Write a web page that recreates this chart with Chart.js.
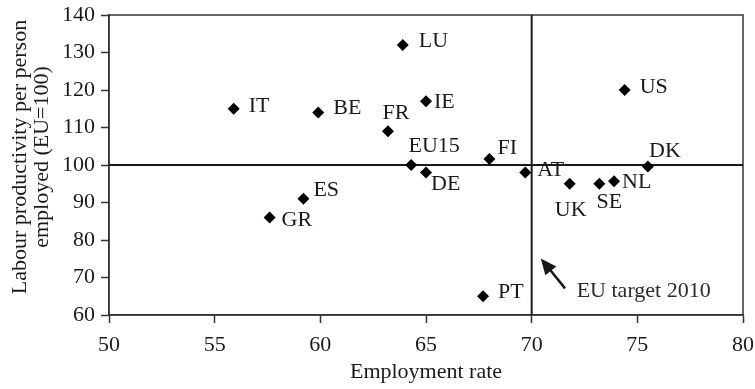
<!DOCTYPE html>
<html>
<head>
<meta charset="utf-8">
<script src="https://cdn.jsdelivr.net/npm/chart.js@4.4.1/dist/chart.umd.min.js"></script>
<style>
  html, body { margin: 0; padding: 0; background: #fff; }
  #wrap { width: 755px; height: 389px; }
</style>
</head>
<body>
<div id="wrap"><canvas id="chart-productivity"></canvas></div>
<script>
// Employment rate vs labour productivity per person employed
const countries = ['IT', 'BE', 'ES', 'GR', 'LU', 'IE', 'FR', 'EU15', 'DE', 'FI', 'AT', 'UK', 'SE', 'NL', 'DK', 'US', 'PT'];
const employment = [55.9, 59.9, 59.2, 57.6, 63.9, 65.0, 63.2, 64.3, 65.0, 68.0, 69.7, 71.8, 73.2, 73.9, 75.5, 74.4, 67.7];
const productivity = [115, 114, 91, 86, 132, 117, 109, 100, 98, 101.6, 98, 95, 95, 95.7, 99.6, 120, 65];

const xTicks = [50, 55, 60, 65, 70, 75, 80];
const yTicks = [60, 70, 80, 90, 100, 110, 120, 130, 140];

const xTitle = 'Employment rate';
const yTitle = ['Labour productivity per person', 'employed (EU=100)'];

// target line, EU average line and the note pointing at the target
const targetEmployment = 70;
const euAverage = 100;
const noteText = 'EU target 2010';
const noteArrow = [[71.58, 67.1], [70.43, 75.1]];
const notePos = [72.13, 66.4];

// label placement next to each diamond: [dx, dy, align]
const labelPlace = {
  IT: [15, -3, 'left'], BE: [15, -4, 'left'], ES: [10, -9, 'left'], GR: [12, 3, 'left'],
  LU: [16, -4, 'left'], IE: [8, 1, 'left'], FR: [8, -18, 'center'], EU15: [23, -19, 'center'],
  DE: [5, 12, 'left'], FI: [8, -11, 'left'], AT: [12, -2, 'left'], UK: [1, 26, 'center'],
  SE: [10, 18, 'center'], NL: [8, 1, 'left'], DK: [17, -15, 'center'], US: [15, -3, 'left'],
  PT: [15, -4, 'left']
};

const FONT = "'Liberation Serif', 'Times New Roman', serif";
const INK = '#1a1a1a';

const points = countries.map((c, i) => ({ x: employment[i], y: productivity[i] }));

const overlay = {
  id: 'overlay',
  beforeDatasetsDraw(chart) {
    const { ctx, chartArea: a, scales: { x, y } } = chart;
    ctx.save();
    ctx.strokeStyle = '#333';
    ctx.lineWidth = 1.5;
    ctx.strokeRect(a.left, a.top, a.right - a.left, a.bottom - a.top);
    const px = x.getPixelForValue(targetEmployment);
    const py = y.getPixelForValue(euAverage);
    ctx.strokeStyle = INK;
    ctx.lineWidth = 2;
    ctx.beginPath();
    ctx.moveTo(px, a.top); ctx.lineTo(px, a.bottom);
    ctx.moveTo(a.left, py); ctx.lineTo(a.right, py);
    ctx.stroke();
    ctx.restore();
  },
  afterDatasetsDraw(chart) {
    const { ctx, chartArea: a, scales: { x, y } } = chart;
    const meta = chart.getDatasetMeta(0);
    ctx.save();
    ctx.font = '22px ' + FONT;
    ctx.fillStyle = INK;
    ctx.textBaseline = 'middle';
    meta.data.forEach((pt, i) => {
      const [dx, dy, align] = labelPlace[countries[i]];
      ctx.textAlign = align;
      ctx.fillText(countries[i], pt.x + dx, pt.y + dy);
    });

    // arrow towards the target line
    const x0 = x.getPixelForValue(noteArrow[0][0]), y0 = y.getPixelForValue(noteArrow[0][1]);
    const x1 = x.getPixelForValue(noteArrow[1][0]), y1 = y.getPixelForValue(noteArrow[1][1]);
    const ang = Math.atan2(y1 - y0, x1 - x0);
    const hl = 16, hw = 7;
    ctx.strokeStyle = INK;
    ctx.lineWidth = 2.5;
    ctx.beginPath();
    ctx.moveTo(x0, y0);
    ctx.lineTo(x1 - Math.cos(ang) * hl * 0.8, y1 - Math.sin(ang) * hl * 0.8);
    ctx.stroke();
    ctx.beginPath();
    ctx.moveTo(x1, y1);
    ctx.lineTo(x1 - Math.cos(ang) * hl - Math.sin(ang) * hw, y1 - Math.sin(ang) * hl + Math.cos(ang) * hw);
    ctx.lineTo(x1 - Math.cos(ang) * hl + Math.sin(ang) * hw, y1 - Math.sin(ang) * hl - Math.cos(ang) * hw);
    ctx.closePath();
    ctx.fillStyle = INK;
    ctx.fill();

    ctx.fillStyle = '#2b2b2b';
    ctx.textAlign = 'left';
    ctx.fillText(noteText, x.getPixelForValue(notePos[0]), y.getPixelForValue(notePos[1]));

    // y axis title, two lines, sitting a little above the axis middle
    ctx.fillStyle = INK;
    ctx.textAlign = 'center';
    ctx.translate(20, (a.top + a.bottom) / 2 - 8);
    ctx.rotate(-Math.PI / 2);
    yTitle.forEach((line, i) => ctx.fillText(line, 0, i * 22));
    ctx.restore();
  }
};

const config = {
  type: 'scatter',
  data: {
    datasets: [{
      data: points,
      pointStyle: 'rectRot',
      pointRadius: 6,
      pointHoverRadius: 6,
      backgroundColor: '#000',
      borderColor: '#000',
      borderWidth: 0,
      clip: false
    }]
  },
  options: {
    responsive: true,
    maintainAspectRatio: false,
    animation: false,
    events: [],
    layout: { padding: { top: 15, right: 12, left: 0, bottom: 0 } },
    plugins: { legend: { display: false }, tooltip: { enabled: false } },
    scales: {
      x: {
        type: 'linear',
        min: 50,
        max: 80,
        afterBuildTicks: s => { s.ticks = xTicks.map(v => ({ value: v })); },
        afterFit: s => { s.height = 74; s.paddingLeft = 0; s.paddingRight = 0; },
        grid: { drawOnChartArea: false, drawTicks: true, tickLength: 8, tickColor: '#333', tickWidth: 1.5 },
        border: { display: true, color: '#333', width: 1.5 },
        ticks: { color: INK, padding: 9, maxRotation: 0, font: { family: FONT, size: 22 } },
        title: {
          display: true,
          text: xTitle,
          color: INK,
          padding: { top: 0, bottom: 6 },
          font: { family: FONT, size: 22, lineHeight: 1 }
        }
      },
      y: {
        type: 'linear',
        min: 60,
        max: 140,
        afterBuildTicks: s => { s.ticks = yTicks.map(v => ({ value: v })); },
        afterFit: s => { s.width = 109; s.paddingTop = 0; s.paddingBottom = 0; },
        grid: { drawOnChartArea: false, drawTicks: true, tickLength: 8, tickColor: '#333', tickWidth: 1.5 },
        border: { display: true, color: '#333', width: 1.5 },
        ticks: { color: INK, padding: 6, font: { family: FONT, size: 22 } }
      }
    }
  },
  plugins: [overlay]
};

const productivityChart = new Chart(
  document.getElementById('chart-productivity'),
  config
);
</script>
</body>
</html>
